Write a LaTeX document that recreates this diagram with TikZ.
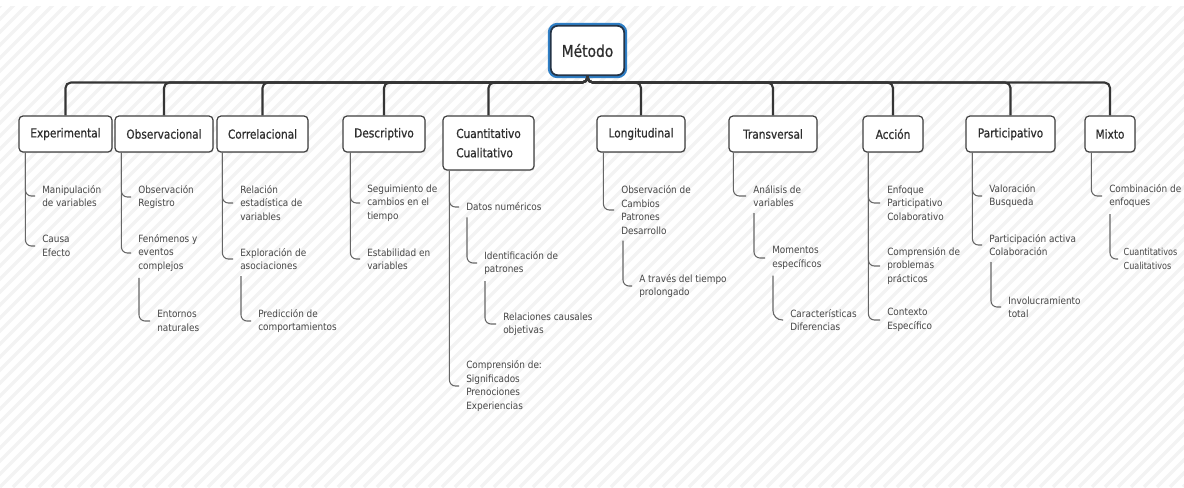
\documentclass[tikz,border=0pt]{standalone}
\usepackage{fontspec}
\setmainfont{DejaVu Sans}[FakeStretch=0.89]
\newfontfamily\headfont{DejaVu Sans}[FakeStretch=0.85,FakeBold=0.7]
\newfontfamily\narrowfont{DejaVu Sans}[FakeStretch=0.83]
\usetikzlibrary{calc,shadows}
\definecolor{busline}{HTML}{353535}
\definecolor{boxline}{HTML}{404040}
\definecolor{boxtext}{HTML}{2E2E2E}
\definecolor{twigline}{HTML}{666666}
\definecolor{leaftext}{HTML}{464646}
\definecolor{rootblue}{HTML}{2F7FC6}
\definecolor{rootdark}{HTML}{243447}
\definecolor{hatch}{HTML}{F3F3F3}

\begin{document}
\begin{tikzpicture}[x=0.75pt,y=-0.75pt,
  rootbox/.style={draw=rootdark, line width=1.3pt, fill=white, rounded corners=5pt,
    minimum width=55pt, minimum height=37pt, text=boxtext,
    font=\headfont\fontsize{12.2}{14}\selectfont,
    preaction={draw=rootblue, line width=4.5pt}},
  topbox/.style={draw=boxline, line width=0.9pt, fill=white, rounded corners=3pt,
    minimum height=27pt, inner xsep=4pt, text=boxtext,
    font=\headfont\fontsize{9.3}{14.5}\selectfont,
    drop shadow={opacity=0.22, shadow xshift=0.6pt, shadow yshift=-0.9pt}},
  leaf/.style={anchor=west, align=left, inner xsep=5.25pt, inner ysep=1.5pt,
    text=leaftext, font=\fontsize{7.5}{10.1}\selectfont},
  bus/.style={draw=busline, line width=1.6pt, rounded corners=4pt},
  twig/.style={draw=twigline, line width=0.8pt, rounded corners=4.5pt},
  stripe/.style={draw=hatch, line width=2.6pt}
]
\useasboundingbox (0,0) rectangle (1184,487);
\fill[white] (0,0) rectangle (1184,487);

% diagonal background stripes
\begin{scope}
  \clip (0,6) rectangle (1184,487);
  \foreach \i in {-494,-481,...,1190}
    \draw[stripe] (\i,487) -- ++(487,-487);
\end{scope}

% root
\node[rootbox] (root) at (587.5,50.5) {Método};

% first level
\node[topbox, minimum width=69.75pt] (exp) at (65.5,134) {Experimental};
\node[topbox, minimum width=73.5pt]  (obs) at (164,134) {Observacional};
\node[topbox, minimum width=68.25pt] (cor) at (262.5,134) {Correlacional};
\node[topbox, minimum width=61.5pt]  (des) at (384,134) {Descriptivo};
\node[topbox, minimum width=68.25pt, minimum height=40.5pt, align=left] (cua) at (488.5,143) {Cuantitativo\\Cualitativo};
\node[topbox, minimum width=66pt]    (lon) at (641,134) {Longitudinal};
\node[topbox, minimum width=66pt]    (tra) at (773,134) {Transversal};
\node[topbox, minimum width=45pt]    (acc) at (893,134) {Acción};
\node[topbox, minimum width=66.75pt] (par) at (1010.5,134) {Participativo};
\node[topbox, minimum width=37.5pt]  (mix) at (1110,134) {Mixto};

\foreach \c in {exp,obs,cor,des,cua,lon,tra,acc,par,mix}
  \draw[bus] (root.south) -- ++(0,6.5) -| (\c.north);

% Experimental
\node[leaf] (e1) at (35,196) {Manipulación\\de variables};
\node[leaf] (e2) at (35,246) {Causa\\Efecto};
\coordinate (expc) at ($(exp.south west)+(7,0)$);
\draw[twig] (expc) |- (e1.west);
\draw[twig] (expc) |- (e2.west);

% Observacional
\node[leaf] (o1) at (131,197) {Observación\\Registro};
\node[leaf] (o2) at (131,253) {Fenómenos y\\eventos\\complejos};
\node[leaf] (o3) at (150,321) {Entornos\\naturales};
\coordinate (obsc) at ($(obs.south west)+(7,0)$);
\draw[twig] (obsc) |- (o1.west);
\draw[twig] (obsc) |- (o2.west);
\draw[twig] ($(o2.south west)+(8,4)$) |- (o3.west);

% Correlacional
\node[leaf] (c1) at (233,203) {Relación\\estadística de\\variables};
\node[leaf] (c2) at (233,259) {Exploración de\\asociaciones};
\node[leaf] (c3) at (251,321) {Predicción de\\comportamientos};
\coordinate (corc) at ($(cor.south west)+(6,0)$);
\draw[twig] (corc) |- (c1.west);
\draw[twig] (corc) |- (c2.west);
\draw[twig] ($(c2.south west)+(8,4)$) |- (c3.west);

% Descriptivo
\node[leaf] (d1) at (360,203) {Seguimiento de\\cambios en el\\tiempo};
\node[leaf] (d2) at (360,259) {Estabilidad en\\variables};
\coordinate (desc) at ($(des.south west)+(8,0)$);
\draw[twig] (desc) |- (d1.west);
\draw[twig] (desc) |- (d2.west);

% Cuantitativo / Cualitativo
\node[leaf] (q1) at (459,207) {Datos numéricos};
\node[leaf] (q2) at (477,263) {Identificación de\\patrones};
\node[leaf] (q3) at (496,324) {Relaciones causales\\objetivas};
\node[leaf] (q4) at (459,386) {Comprensión de:\\Significados\\Prenociones\\Experiencias};
\coordinate (cuac) at ($(cua.south west)+(7,0)$);
\draw[twig] (cuac) |- (q1.west);
\draw[twig] (cuac) |- (q4.west);
\draw[twig] ($(q1.south west)+(8,4)$) |- (q2.west);
\draw[twig] ($(q2.south west)+(8,4)$) |- (q3.west);

% Longitudinal
\node[leaf] (l1) at (614,210) {Observación de\\Cambios\\Patrones\\Desarrollo};
\node[leaf] (l2) at (632,286) {A través del tiempo\\prolongado};
\coordinate (lonc) at ($(lon.south west)+(7,0)$);
\draw[twig] (lonc) |- (l1.west);
\draw[twig] ($(l1.south west)+(9,4)$) |- (l2.west);

% Transversal
\node[leaf] (t1) at (746,196) {Análisis de\\variables};
\node[leaf] (t2) at (765,258) {Momentos\\específicos};
\node[leaf] (t3) at (783,320) {Características\\Diferencias};
\coordinate (trac) at ($(tra.south west)+(5,0)$);
\draw[twig] (trac) |- (t1.west);
\draw[twig] ($(t1.south west)+(8,4)$) |- (t2.west);
\draw[twig, rounded corners=7pt] ($(t2.south west)+(8,4)$) |- (t3.west);

% Acción
\node[leaf] (a1) at (880,203) {Enfoque\\Participativo\\Colaborativo};
\node[leaf] (a2) at (880,266) {Comprensión de\\problemas\\prácticos};
\node[leaf] (a3) at (880,320) {Contexto\\Específico};
\coordinate (accc) at ($(acc.south west)+(6,0)$);
\draw[twig] (accc) |- (a1.west);
\draw[twig] (accc) |- (a2.west);
\draw[twig] (accc) |- (a3.west);

% Participativo
\node[leaf] (p1) at (982,196) {Valoración\\Busqueda};
\node[leaf] (p2) at (982,245) {Participación activa\\Colaboración};
\node[leaf] (p3) at (1001,307) {Involucramiento\\total};
\coordinate (parc) at ($(par.south west)+(7,0)$);
\draw[twig] (parc) |- (p1.west);
\draw[twig] (parc) |- (p2.west);
\draw[twig] ($(p2.south west)+(9,4)$) |- (p3.west);

% Mixto
\node[leaf] (m1) at (1102,196) {Combinación de\\enfoques};
\node[leaf, inner xsep=4pt, font=\narrowfont\fontsize{7.3}{10.1}\selectfont] (m2) at (1118,259) {Cuantitativos\\Cualitativos};
\coordinate (mixc) at ($(mix.south west)+(7,0)$);
\draw[twig] (mixc) |- (m1.west);
\draw[twig] ($(m1.south west)+(8,4)$) |- (m2.west);
\end{tikzpicture}
\end{document}
